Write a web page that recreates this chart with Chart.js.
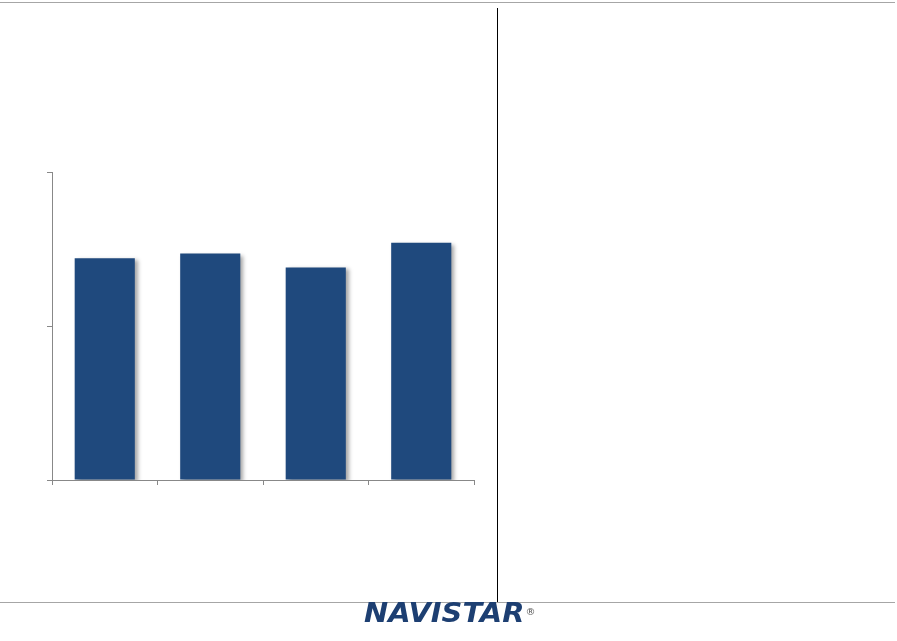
<!DOCTYPE html>
<html>
<head>
<meta charset="utf-8">
<script src="https://cdn.jsdelivr.net/npm/chart.js@4/dist/chart.umd.min.js"></script>
<style>
  html, body { margin:0; padding:0; background:#fff; }
  #wrap { position:relative; width:897px; height:641px; overflow:hidden; }
  #chart { position:absolute; left:0; top:0; }
  .hline { position:absolute; left:0; width:895px; height:1px; background:#a6a6a6; }
  .vline { position:absolute; left:497px; top:8px; width:1px; height:594px; background:#000; }
  #logo { position:absolute; left:364px; top:600px; font-family:"DejaVu Sans", sans-serif; line-height:26px;
          font-weight:bold; font-style:italic; font-size:26px; color:#1d3f72;
          transform:scaleX(1.11); transform-origin:left top; white-space:nowrap; }
  #logo sup { font-size:9px; font-style:normal; font-weight:normal; vertical-align:top; position:relative; top:-1px; margin-left:1px; color:#555; }
</style>
</head>
<body>
<div id="wrap">
  <canvas id="chart" width="897" height="641"></canvas>
  <div class="hline" style="top:2px"></div>
  <div class="hline" style="top:602px"></div>
  <div class="vline"></div>
  <div id="logo">NAVISTAR<sup>®</sup></div>
</div>
<script>
const categories = ['', '', '', ''];
const values = [1.44, 1.47, 1.38, 1.54];
const yTicks = [0, 1, 2];

// soft drop shadow behind the bars
const barShadow = {
  id: 'barShadow',
  beforeDatasetsDraw(chart) {
    const c = chart.ctx;
    c.save();
    c.shadowColor = 'rgba(0,0,0,0.35)';
    c.shadowBlur = 4;
    c.shadowOffsetX = 3;
    c.shadowOffsetY = 2;
  },
  afterDatasetsDraw(chart) { chart.ctx.restore(); }
};

const ctx = document.getElementById('chart').getContext('2d');
new Chart(ctx, {
  type: 'bar',
  data: {
    labels: categories,
    datasets: [{
      data: values,
      backgroundColor: '#1f497d',
      borderWidth: 0,
      barPercentage: 0.57,
      categoryPercentage: 1
    }]
  },
  options: {
    responsive: false,
    animation: false,
    layout: { padding: { left: 47, top: 172, right: 423, bottom: 156 } },
    plugins: { legend: { display: false }, tooltip: { enabled: false } },
    scales: {
      x: {
        grid: { display: true, drawOnChartArea: false, drawTicks: true, tickLength: 5, color: '#888', offset: true },
        border: { display: true, color: '#888' },
        ticks: { display: false }
      },
      y: {
        min: yTicks[0],
        max: yTicks[yTicks.length - 1],
        afterBuildTicks(axis) { axis.ticks = yTicks.map(v => ({ value: v })); },
        grid: { display: true, drawOnChartArea: false, drawTicks: true, tickLength: 5, color: '#888' },
        border: { display: true, color: '#888' },
        ticks: { display: false }
      }
    }
  },
  plugins: [barShadow]
});
</script>
</body>
</html>
